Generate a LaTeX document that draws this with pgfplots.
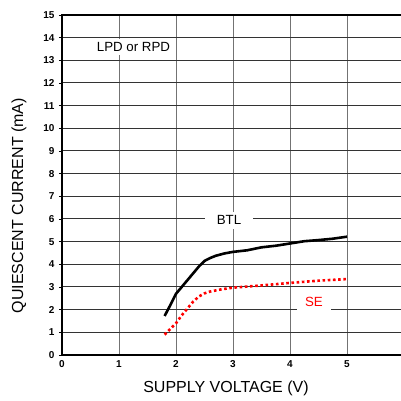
\documentclass[border=0pt]{standalone}
\usepackage{pgfplots}
\pgfplotsset{compat=1.18}
\usepackage{fontspec}
\setmainfont{Liberation Sans}
\begin{document}
\begin{tikzpicture}
\begin{axis}[
  at={(0pt,0pt)}, anchor=south west,
  scale only axis, width=342pt, height=340pt,
  xmin=0, xmax=6, ymin=0, ymax=15,
  xtick={0,1,2,3,4,5,6}, ytick={0,1,...,15},
  /pgf/number format/assume math mode=true,
  tick label style={font=\fontsize{10}{10}\selectfont\bfseries},
  tick pos=left, tick align=outside,
  major tick length=3pt,
  x tick style={draw=none},
  y tick style={black, line width=0.7pt},
  xticklabel style={yshift=1pt},
  yticklabel style={xshift=-1pt},
  grid=major,
  x grid style={black!55, line width=1pt},
  y grid style={black!80, line width=1pt},
  axis line style={line width=2pt},
  clip=false,
]
\addplot[black, line width=2.6pt, line join=round] coordinates {
(1.8,1.72)(1.9,2.2)(2.0,2.7)(2.1,3.0)(2.2,3.3)(2.3,3.6)(2.4,3.9)(2.5,4.15)(2.6,4.28)(2.7,4.38)(2.85,4.48)(3.0,4.55)(3.25,4.62)(3.5,4.75)(3.75,4.82)(4.0,4.92)(4.25,5.02)(4.5,5.07)(4.75,5.13)(5.0,5.22)};
\addplot[red, line width=2.6pt, dash pattern=on 2.6pt off 2.6pt] coordinates {
(1.8,0.9)(1.9,1.15)(2.0,1.4)(2.1,1.75)(2.2,2.05)(2.3,2.35)(2.4,2.58)(2.5,2.72)(2.6,2.8)(2.8,2.9)(3.0,2.97)(3.5,3.07)(4.0,3.18)(4.5,3.28)(5.0,3.35)};
\node[fill=white, inner xsep=12pt, inner ysep=4pt, font=\fontsize{13.3}{13.3}\selectfont] at (axis cs:2.93,5.95) {BTL};
\node[fill=white, inner xsep=8pt, inner ysep=3pt, text=red, font=\fontsize{13.3}{13.3}\selectfont] at (axis cs:4.42,2.34) {SE};
\node[fill=white, inner xsep=2pt, inner ysep=3pt, font=\fontsize{13.3}{13.3}\selectfont] at (axis cs:1.254,13.59) {LPD or RPD};
\node[font=\fontsize{16}{16}\selectfont] at (axis cs:2.877,-1.456) {SUPPLY VOLTAGE (V)};
\node[font=\fontsize{16}{16}\selectfont, rotate=90] at (axis cs:-0.754,6.59) {QUIESCENT CURRENT (mA)};
\end{axis}
\pgfresetboundingbox
\path[use as bounding box] (-62pt,-46pt) rectangle (339pt,355pt);
\end{tikzpicture}
\end{document}
